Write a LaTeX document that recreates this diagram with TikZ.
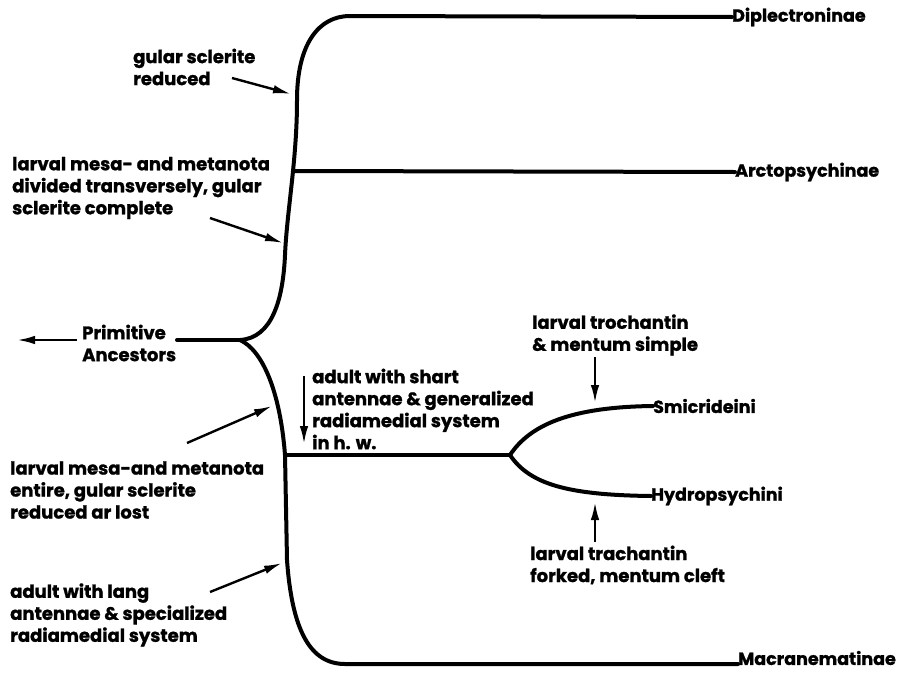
\documentclass[tikz,border=0pt]{standalone}
\usepackage{fontspec}
\setmainfont{Poppins}[BoldFeatures={FakeBold=1.2}]
\usetikzlibrary{arrows.meta}
\begin{document}
\begin{tikzpicture}[x=1pt,y=-1pt,
  branch/.style={line width=4pt,line cap=round,line join=round},
  note/.style={anchor=west,align=left,inner sep=0pt,font=\fontsize{18}{22}\selectfont\bfseries},
  taxon/.style={anchor=west,inner sep=0pt,font=\fontsize{17.5}{20}\selectfont\bfseries},
  pointer/.style={line width=2.4pt,-{Latex[length=18pt,width=8.5pt]}}]
\useasboundingbox (0,0) rectangle (901,672);
% tree points
\coordinate (root) at (240,340);
\coordinate (top) at (350,16);
\coordinate (bot) at (345,664);
\coordinate (arcJ) at (295,171);
\coordinate (midJ) at (285,455);
\coordinate (fork) at (510,455);
% taxa
\node[taxon] (dip) at (732,17) {Diplectroninae};
\node[taxon] (arc) at (735,172) {Arctopsychinae};
\node[taxon] (mac) at (738,658) {Macranematinae};
\node[taxon] (smi) at (653,406) {Smicrideini};
\node[taxon] (hyd) at (651,496) {Hydropsychini};
\node[note,align=left] (anc) at (82,343) {Primitive\\Ancestors};
% branches
\draw[branch] (root) .. controls (272,338) and (283,300) .. (285,255)
  .. controls (287,210) and (297,160) .. (297,100)
  .. controls (297,45) and (318,16) .. (top) -- (dip.west);
\draw[branch] (arcJ) -- (arc.west);
\draw[branch] (root) .. controls (262,350) and (280,390) .. (midJ)
  -- (287,560) .. controls (292,630) and (310,664) .. (bot) -- (bot -| mac.west);
\draw[branch] (midJ) -- (fork);
\draw[branch] (fork) .. controls (530,425) and (570,407) .. (smi.west);
\draw[branch] (fork) .. controls (530,485) and (570,495) .. (hyd.west);
\coordinate (ancR) at (177,340);
\draw[branch] (ancR) -- (root);
\coordinate (ancL) at (77,340);
\coordinate (ancT) at (17,340);
\draw[pointer] (ancL) -- (ancT);
% character notes
\node[note] (n1) at (133,67) {gular sclerite\\reduced};
\node[note] (n2) at (12,188) {larval mesa- and metanota\\divided transversely, gular\\sclerite complete};
\node[note] (n3) at (312,409) {adult with shart\\antennae \& generalized\\radiamedial system\\in h. w.};
\node[note] (n4) at (10,490) {larval mesa-and metanota\\entire, gular sclerite\\reduced ar lost};
\node[note] (n5) at (10,615) {adult with lang\\antennae \& specialized\\radiamedial system};
\node[note] (n6) at (532,335) {larval trochantin\\\& mentum simple};
\node[note] (n7) at (530,565) {larval trachantin\\forked, mentum cleft};
% pointer arrows
\coordinate (a1s) at (232,78);  \coordinate (a1e) at (291,94);
\coordinate (a2s) at (210,218); \coordinate (a2e) at (283,243);
\coordinate (a3s) at (304,376); \coordinate (a3e) at (304,444);
\coordinate (a4s) at (187,443); \coordinate (a4e) at (272,406);
\coordinate (a5s) at (210,592); \coordinate (a5e) at (282,563);
\coordinate (a6s) at (595,357); \coordinate (a6e) at (595,403);
\coordinate (a7s) at (595,542); \coordinate (a7e) at (595,502);
\draw[pointer] (a1s) -- (a1e);
\draw[pointer] (a2s) -- (a2e);
\draw[pointer] (a3s) -- (a3e);
\draw[pointer] (a4s) -- (a4e);
\draw[pointer] (a5s) -- (a5e);
\draw[pointer] (a6s) -- (a6e);
\draw[pointer] (a7s) -- (a7e);
\end{tikzpicture}
\end{document}
